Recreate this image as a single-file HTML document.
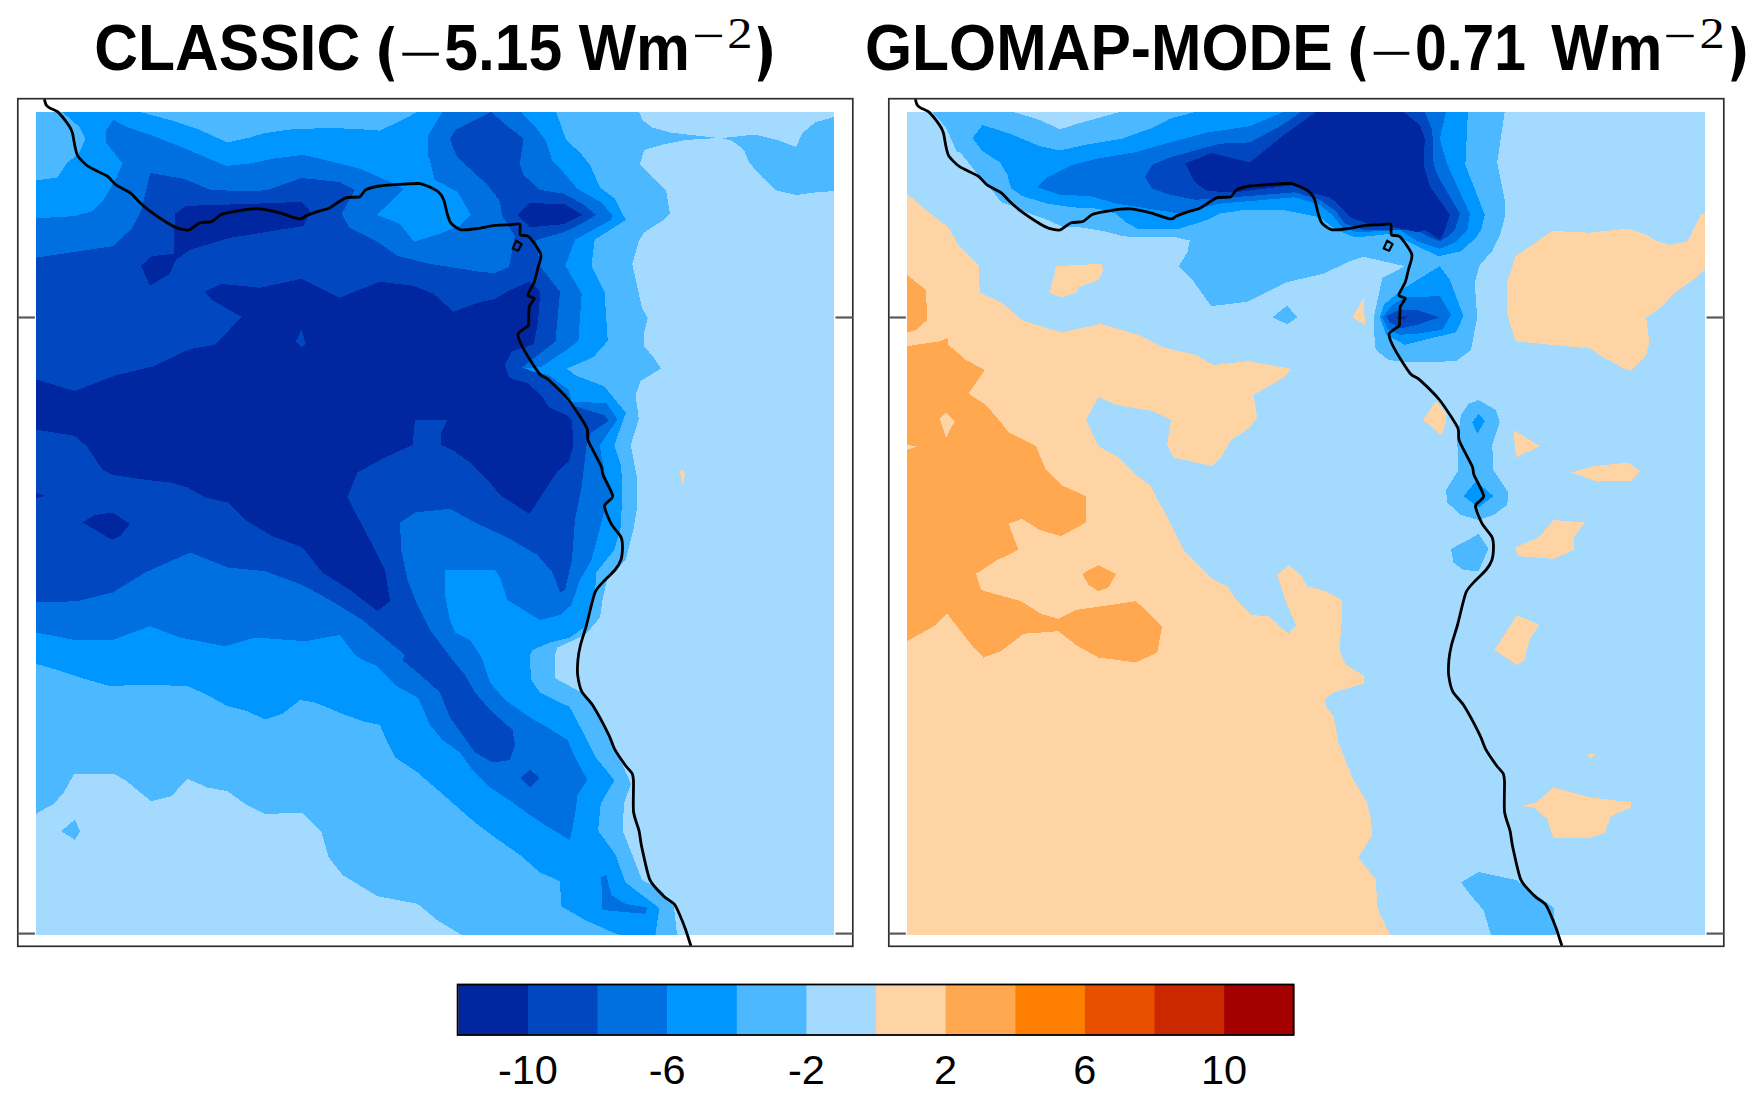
<!DOCTYPE html>
<html><head><meta charset="utf-8"><style>
html,body{margin:0;padding:0;background:#fff;width:1763px;height:1102px;overflow:hidden;position:relative}
</style></head><body>
<svg width="1763" height="1102" viewBox="0 0 1763 1102" style="position:absolute;left:0;top:0">
<g shape-rendering="crispEdges">
<rect x="36" y="112" width="798" height="823" fill="#4BB8FF"/>
<path d="M639,112 834,112 834,117 815,122.5 802.5,133 796,147 777.5,140 755,134.5 732.5,137 721,138 732.5,141 744,150 749,162.5 762.5,177.5 775,190 796,195 815,192.5 834,191 834,935 679,935 677,934 674,907 661,890 642,880 633.5,858 622.6,830.6 624,803 631,784 622.6,765 607.6,734 592.7,705 580.4,691.7 560,681 555,677.5 555,655 557.5,647.5 585,635 600,617.5 602.5,600 607.5,577.5 625.8,560 633.9,527 637.2,507.4 637.2,478 630.7,445.3 638.8,419.2 635.6,395 640.5,381 660.9,368.6 653.5,357.2 643.7,345.8 643.7,334.3 647.8,318 642.1,308.2 632.3,264.1 638.8,241.2 643.7,233 663.3,220 655,227.5 670,214 666,190 652.5,177.5 640,164 644,150 665,144 685,140 718,138 670,132.5 652.5,127.5 642.5,120Z" fill="#A5DAFF"/>
<path d="M36,813.8 53.8,803.8 63.8,792.5 73.8,774.5 92.5,773.8 113.8,773.8 125,780 151.2,801.2 171.2,796.2 187.5,778.8 207.5,787.5 227.5,791.2 245,803.8 265,813.8 302.5,813 321.2,831.2 328.8,857.5 342.5,875 377.5,896.2 417.5,903.8 437,920 462,935 36,935Z" fill="#A5DAFF"/>
<path d="M61.2,831.2 75,819.5 80,831.2 75,840Z" fill="#4BB8FF"/>
<path d="M680,471 684,470 685,476 683,486 681,478Z" fill="#FFD4A5"/>
<path d="M62.5,112 140,112 170,120 200,130 227.5,142.5 250,137.4 265,133 292.4,129.3 324.9,128.1 352.3,128.7 379.8,130.6 399.7,121.2 417.2,112 556.2,112 562.5,130 566.2,140 580,152.5 590,165 600,187.5 615,198.8 625.8,220 594.7,239.6 591.5,265.7 604.5,291.9 607.8,340.9 593.1,357.2 567,368.6 575.1,375.2 604.5,386.6 625.8,412.7 614.3,445.3 620.9,464.9 622.5,486.2 620.9,527 614.3,549.9 606.2,560 596.2,572.5 595,595 587.5,625 570,637.5 550,642.5 532.5,650 530,655 530,660 531.2,680 540,692.5 562.5,703.8 569.5,706.7 581.8,729.8 595.4,757 614.5,780.2 600.8,803.4 598.1,830.6 615.8,855 625.3,882.3 659.4,908.2 655.3,935 620,935 610,931.2 585,920 561.2,906.2 560,881.2 540,872.5 520,855 495,837.5 475,822.5 455,805 435,787.5 417.5,772.5 395,757.5 387.5,742.5 380,725 362.5,721.2 342.5,713.8 315,702.5 300,700 282.5,713.8 265,719.5 247.5,711.2 227.5,706.2 205,693.8 187.5,686.2 145,684.5 110,686.2 80,677.5 57.5,670 36,663.8 36,180.5 57.5,177.5 67.5,162.5 78.8,153.8 85.5,138.8 80,127.5Z" fill="#0096FF"/>
<path d="M36,218.4 74.7,216.1 91.7,211.4 104.1,199.1 116.4,177.5 122.6,163.6 105.6,142 105.6,131.2 113.3,119.7 125.7,126.6 153.4,135.9 184.3,148.2 225.9,165.9 250,163.6 272.5,158.7 302.4,154.9 324.9,159.9 359.8,168.6 390,182 403.9,188.9 376.9,214.9 399.9,223.9 413.9,241.8 439.8,233.8 459.8,225.8 470.8,214.9 457.8,191.9 434.8,179.9 429.8,160 427.5,154.9 427.5,136.2 442.5,112 521.1,112 536,127.5 546,141.2 552.3,161.2 563.5,172.4 577.2,188.6 600.9,202.3 612.2,214.8 611,220 575.1,239.6 565.3,265.7 581.7,293.5 578.4,340.9 565.3,350.7 540.8,367 521.2,368.6 549,375.2 568.6,389.9 571.9,402 606.2,402.9 617.6,419.2 599.6,445.3 604.5,471.5 611.1,494.3 604.5,510.7 598,535.2 591.5,560 580,580 571.2,605 560,615 540,620 507.5,600 500,577.5 495,570 445,570 445,595 450,620 455,632.5 470,640 480,655 482.5,660 490,682.5 505,700 530,717.5 547.5,727.5 567.5,740 575,757.5 587.5,780 577.5,795 575,815 570,840 545,825 530,815 512.5,802.5 490,787.5 472.5,770 460,752.5 442.5,740 430,725 422.5,707.5 417.5,697.5 395,685 375,665 362.5,660 355,655 340,635 305,641.2 255,637.5 225,646.2 180,637.5 150,626.2 112.5,640 75,640 36,632.5Z" fill="#0070E0"/>
<path d="M601.2,877.5 606.2,875 611.2,895 625,903.8 647.5,907.5 645,913.8 602.5,910Z" fill="#0070E0"/>
<path d="M36,257.7 76.3,251.6 113.3,246.2 131.8,228.4 141.1,211.4 150.3,172.9 184.3,179 210.5,189.9 250,191.4 267.8,190 301.7,178 339.6,182 354.6,189.9 341.6,213.9 349.6,227.9 377.6,241.9 397.5,255.8 429.5,263.8 480,271.8 494.5,273 509,267 514.8,236 507.3,223.5 502.4,216.1 499.9,201.1 487.4,184.9 472.4,171.1 457.4,157.4 452.4,146.2 450,138.7 456.2,129.3 491.1,112 507.3,126.2 523.6,138.7 519.8,163.6 523.6,174.9 539.8,189.9 563.5,193.6 582.2,203.6 595.9,214.8 579.7,224.8 563.5,232.3 536,240 540,266 560,292 555.5,341.4 522.1,367.5 542.5,374.8 555.5,387.9 570,405 604.5,415.1 608.6,420.8 591.5,432.3 586.6,445.3 581.7,486.2 575.1,518.8 571.9,560 565,590 560,592.5 552.5,572.5 537.5,555 507.5,537.5 475,522.5 450,508.8 415,512.5 400,522.5 401.2,550 407.5,580 417.5,605 430,630 445,650 452.5,660 465,675 475,692.5 490,710 512.5,730 515,745 510,760 492.5,762.5 475,752.5 462.5,735 450,717.5 440,692.5 417.5,672.5 402.5,660 405,655 362.5,620 330,600 302.5,585 265,571.2 227.5,567.5 190,552.5 145,572.5 112.5,592.5 77.5,601.2 36,602.5Z" fill="#0047C0"/>
<path d="M520,778 530,770 540,778 530,787Z" fill="#0047C0"/>
<path d="M174.9,213.9 185.9,205.9 249.8,203.9 301.7,201.9 310.7,211.9 303.7,225.9 229.8,237.9 189.9,249.8 175.9,259.8 169.9,273.8 149.9,285.8 141,265.8 151.9,256.2 173.9,253.8Z" fill="#0026A0"/>
<path d="M517.3,214.8 529.8,203 564.7,204.2 582.2,214.8 563.5,224.2 529.8,227.3Z" fill="#0026A0"/>
<path d="M36,379.4 74.7,391 114.9,375.6 153.4,366.3 188.9,349.4 215.1,344.7 241.4,317 212,300 203.9,291.8 221.8,283.8 259.8,287.8 301.7,278.8 339.6,297.8 379.6,281.8 413.5,285.8 433.5,293.8 453.4,311.7 480,302.1 494.5,299.2 509.1,290.5 529.4,281.8 540.3,291.2 538.1,321 533.8,344.3 512,351.5 504.7,364.6 509.1,377.7 527.9,383.5 542.5,396.6 548.3,406.7 567.2,415.5 571.9,420.8 573.5,445.3 568.6,461.7 557.2,471.5 529.4,514 500,495 490,482.5 470,462.5 452.5,450 441.2,445 441.2,432.5 447.5,420 415,420 412.5,445 385,457.5 357.5,472.5 347.5,497.5 375,550 385,570 390,601.2 377.5,611.2 350,590 322.5,572.5 302.5,547.5 272.5,536.2 245,520 227.5,502.5 205,497.5 187.5,487.5 170,482.5 147.5,480 112.5,475 102.5,470 87.1,446.6 74.7,435.8 36,429.6Z" fill="#0026A0"/>
<path d="M295.7,341.7 301.7,329.7 305.7,343.7 301.7,347.7Z" fill="#0047C0"/>
<path d="M82.5,522.5 95,515 112.5,512.5 130,523.8 120,536.2 112.5,540Z" fill="#0026A0"/>
<path d="M36,493 45,496 36,498Z" fill="#0026A0"/>
<rect x="907" y="112" width="798" height="823" fill="#A5DAFF"/>
<path d="M907.2,193.8 926,210 948.5,227.5 958.5,245 978.5,265 979.8,292.5 1001,302.5 1013.5,312.5 1021,320 1061,332.5 1101,323.8 1138.5,335 1163.5,347.5 1196,355 1213.5,365 1248.5,361.2 1291,368.8 1286,376.2 1253.5,395 1257.2,417.5 1248.5,428.8 1231,440 1221,457.5 1212.2,466.2 1173.5,457.5 1167.2,445 1171,420 1153.5,411.2 1116,405 1098.5,397 1086,420 1098.5,446.2 1118.5,457.5 1136,475 1149.8,485 1163.5,510 1183.5,550 1193.5,560 1213.5,580 1228.5,587.5 1236,600 1251,615 1268.5,616.2 1288.5,633.8 1296,625 1287.2,605 1277.2,575 1288.5,565 1301,575 1307.2,586.2 1326,591.2 1341.8,600 1342,615 1339.5,650 1343.5,660 1346,665 1364.8,676.2 1363.5,683.8 1333.5,692.5 1324.8,698.8 1326,706.2 1333.5,716.2 1338.5,742.5 1343.5,755 1353.5,780 1367.2,802.5 1371,820 1372.2,835 1358.5,857.5 1376,880 1377.2,907.5 1389.8,935 907,935Z" fill="#FFD4A5"/>
<path d="M907,275 926,290 927.2,320 916,330 907,332.5Z" fill="#FFA850"/>
<path d="M907,346.2 941,341.2 947.2,337.5 948.5,345 966,360 984.8,370 968.5,393.8 986,405 1001,422.5 1008.5,432.5 1036,446.2 1046,470 1061,485 1086,496.2 1086,522.5 1061,536.2 1039.8,530 1022.2,518.8 1008.5,523.8 1018.5,550 997.2,560 976,573.8 981,590 1021,601.2 1041,613.8 1058.5,618.8 1076,610 1118.5,603.8 1136,601.2 1162.2,626.2 1157.2,652.5 1136,662.5 1098.5,657.5 1076,645 1058.5,631.2 1023.5,633.8 1001,651.2 983.5,657.5 973.5,647.5 947.2,613.8 936,625 907,641.2Z" fill="#FFA850"/>
<path d="M939.8,418.8 946,412.5 954.8,421.2 946,437.5Z" fill="#FFD4A5"/>
<path d="M907,445 917.2,446.2 907,450Z" fill="#FFD4A5"/>
<path d="M1082.2,573.8 1098.5,565 1116,573.8 1108.5,587.5 1098.5,591.2 1088.5,585Z" fill="#FFA850"/>
<path d="M1056,266.2 1101,263.8 1103.5,270 1098.5,280 1078.5,287.5 1076,292.5 1061,297.5 1049.8,292.5Z" fill="#FFD4A5"/>
<path d="M1515.5,256.3 1549.8,232.7 1553.1,231 1589,232.7 1628.2,228.6 1647.8,235.1 1654.3,240 1669,244.9 1687,241.6 1700.9,213.9 1705,213.9 1705,269.4 1691.9,280.8 1673.9,293.1 1662.5,306.2 1646.2,317.6 1649.4,342.1 1646.2,355.2 1631.5,369.9 1626.6,369.9 1602.1,356.8 1590.6,348.6 1540,343.7 1515.5,341.3 1507.3,314.3 1507.3,281.7Z" fill="#FFD4A5"/>
<path d="M1423.5,420 1436,401.2 1446,412.5 1446,422.5 1441,435Z" fill="#FFD4A5"/>
<path d="M1513.5,430 1539.8,446.2 1516,457.5Z" fill="#FFD4A5"/>
<path d="M1571,472.5 1593.5,466.2 1628.5,462.5 1639.8,471.2 1631,481.2 1596,481.2Z" fill="#FFD4A5"/>
<path d="M1514.8,547.5 1538.5,537.5 1553.5,520 1584.8,522.5 1573.5,537.5 1573.5,550 1553.5,558.8 1518.5,556.2Z" fill="#FFD4A5"/>
<path d="M1494.5,650 1517,615 1539.5,625 1529.5,640 1524.5,660 1517,665Z" fill="#FFD4A5"/>
<path d="M1521,806.2 1536,802.5 1553.5,787.5 1591,797.5 1631,802.5 1631,807.5 1611,816.2 1604.8,832.5 1591,837.5 1553.5,837.5 1547.2,818.8 1533.5,807.5Z" fill="#FFD4A5"/>
<path d="M1587.2,753.8 1596,753.8 1591,758.8Z" fill="#FFD4A5"/>
<path d="M1352.5,317.3 1363.7,297.4 1364.9,324.8Z" fill="#FFD4A5"/>
<path d="M932.2,112 1013.7,112 1040,120 1059.8,129.3 1080,123 1119.7,112 1504.7,112 1497.2,162.4 1504.7,199.8 1504.7,217.3 1500,235 1492.2,251.2 1479.7,264.9 1474.7,282.4 1477.2,317.3 1471,350 1456,361.2 1411,362.5 1388.5,360 1376,350 1374.9,346 1373.7,317.3 1382.4,278 1404.9,266.2 1363.7,256.8 1350,261.2 1323.4,273.7 1286,282.4 1247.3,301.8 1211.1,306.1 1192.4,279.9 1178.7,266.2 1187.4,252.5 1189.9,240.6 1177.4,237.5 1130,236.9 1122.2,236 1103.5,231 1084.8,227.9 1072.3,226.7 1062.3,226.7 1047.3,219.8 1029.9,213.6 1012.4,206.1 1001.2,202.3 993.7,192.3 975,171.1 967.5,161.2 960,152.4 957.2,152.5 946,127.5Z" fill="#4BB8FF"/>
<path d="M1272.3,317.3 1287.2,305.5 1297.2,317.3 1287.2,324.2Z" fill="#4BB8FF"/>
<path d="M982.5,125 1009.9,133.7 1039.9,146.2 1059.8,150.5 1084.8,144.9 1122.2,138.7 1153.4,127.5 1170,118.7 1195,112 1467.9,112 1465.4,164.9 1484.7,214.8 1481,230 1476,237.5 1461,251.2 1438.6,256.2 1417.3,246.2 1392.4,233.7 1355,237.5 1336,229.8 1319.7,217.3 1307.3,214.8 1282.3,209.8 1244.9,209.8 1219.9,213.6 1207.4,219.8 1180,228.5 1137.2,228.5 1126,222.3 1116,213.6 1097.3,208.6 1072.3,207.3 1047.3,203.6 1022.4,196.1 1011.2,188.6 1007.4,174.9 999.9,162.4 982.5,151.2 972.5,138.1Z" fill="#0096FF"/>
<path d="M1439.8,266.2 1449.8,279.9 1463.5,316.1 1456,332.3 1429.8,338.6 1404.9,344.8 1386.2,334.8 1379.9,317.3 1383.7,304.9 1399.9,291.1 1417.3,279.9Z" fill="#0096FF"/>
<path d="M1037.4,187.4 1047.3,177.4 1072.3,164.9 1097.3,158.7 1134.7,152.4 1170,142.4 1207.4,132.5 1249.9,126.2 1283.6,112 1446,112 1439.8,138.7 1447.3,164.9 1469.8,213.6 1467.3,230 1454.8,242.5 1439.8,248.7 1417.3,241.2 1399.9,230 1357.2,232.3 1342.2,227.3 1332.2,214.8 1319.7,204.8 1294.8,197.3 1219.9,203.6 1180,213.6 1116,203.6 1091,196.1 1059.8,194.8Z" fill="#0070E0"/>
<path d="M1382.4,317.3 1392.4,304.9 1404.9,297.4 1439.8,296.1 1451,314.9 1442.3,329.8 1417.3,333.6 1399.9,334.8 1387.4,328.6Z" fill="#0070E0"/>
<path d="M1152.2,164.9 1170,157.4 1219.9,143.7 1249.9,142.4 1282.3,125 1301,112 1424.8,112 1432.3,130 1433.6,164.9 1438.6,177.4 1459.8,213.6 1454.8,230 1448.5,236.2 1439.8,241.2 1429.8,237.5 1417.3,230 1390,229.8 1363.4,229.8 1344.7,223.5 1336,211.1 1319.7,199.8 1294.8,192.3 1232.4,197.3 1195,199.8 1170,194.8 1152.2,188.6 1145,177Z" fill="#0047C0"/>
<path d="M1386.2,316.1 1399.9,309.9 1417.3,309.9 1439.8,317.3 1417.3,324.8 1399.9,328.6 1389.9,322.3Z" fill="#0047C0"/>
<path d="M1185,163.6 1211.2,153 1249.9,162.4 1282.3,136.2 1316,112 1403.6,112 1419.8,125 1424.8,138.7 1423.6,164.9 1429.8,186.1 1449.8,214.8 1444.8,230 1439.8,240 1424.8,230 1417.3,232.3 1392.4,226.7 1367.4,223.5 1350,217.3 1342.5,208.6 1330,197.3 1313.5,193.6 1294.8,184.9 1234.9,192.3 1207.4,191.1 1195,182.4Z" fill="#0026A0"/>
<path d="M1394.9,317.3 1407.4,316.1 1404.9,319.8Z" fill="#0026A0"/>
<path d="M1478.5,400 1496,410 1499.8,422.5 1492.2,445 1493.5,470 1508.5,492.5 1507.2,505 1493.5,515 1478.5,520 1461,515 1447.2,502.5 1446,490 1458.5,470 1457.2,440 1461,415 1468.5,403.8Z" fill="#4BB8FF"/>
<path d="M1472.2,422.5 1478.5,413.8 1484.8,421.2 1477.2,433.8Z" fill="#0096FF"/>
<path d="M1463.5,496.2 1476,481.2 1493.5,496.2 1478.5,507.5Z" fill="#0096FF"/>
<path d="M1451,548.8 1466,541.2 1478.5,533.8 1488.5,548.8 1478.5,571.2 1463.5,570 1453.5,562.5Z" fill="#4BB8FF"/>
<path d="M1461,882.5 1478.5,872 1516,880 1553.5,907.5 1556,935 1491,935 1483.5,910 1468.5,892.5Z" fill="#4BB8FF"/>
</g>
<path d="M44.3,99 C44.5,99.7 45.5,103.9 46.2,105 C46.9,106.1 48.6,107.3 50,108.1 C51.4,108.9 55.6,109.9 57.8,111.9 C60,113.9 66.9,122.7 68.6,125.1 C70.3,127.5 71.7,130.5 72.4,132.8 C73.1,135.1 74.1,142.4 74.7,145.1 C75.3,147.8 76.2,153.4 77.8,155.9 C79.4,158.4 85.2,164.4 88.6,166.7 C92,169 103.9,173.8 107.1,176 C110.3,178.2 113.7,183.2 116.4,185.2 C119.1,187.2 127.8,191.1 130.3,192.9 C132.8,194.7 135.7,198.5 138,200.7 C140.3,202.9 146.7,208.7 150.3,211.4 C153.9,214.1 165.6,221.8 168.8,223.8 C172,225.8 175.8,227.7 178.1,228.4 C180.4,229.1 186.4,230.6 188.9,230 C191.4,229.4 197,224 199.7,223 C202.4,222 209.5,222.5 212,221.5 C214.5,220.5 218.6,215.7 221.3,214.5 C224,213.3 231.9,212 235.2,211.4 C238.5,210.8 247.1,209.4 250,209.1 C252.9,208.8 256.3,208.5 259.8,208.9 C263.3,209.3 275,211.7 279.7,212.9 C284.4,214.1 296.7,218.6 299.7,218.9 C302.7,219.2 303.4,216.8 305.7,215.9 C308,215 316.9,211.8 319.7,210.9 C322.5,210 326.6,209.4 329.6,207.9 C332.6,206.4 342.1,199.2 345.6,197.9 C349.1,196.6 357.3,197.8 359.6,196.9 C361.9,196 363.3,191.2 365.6,189.9 C367.9,188.6 374.9,186.7 379.6,186 C384.3,185.3 400.8,184.3 405.5,184 C410.2,183.7 417.4,183.4 420,183.6 C422.6,183.8 425.3,185.1 427.5,186.1 C429.7,187.1 436.8,190.7 438.7,192.3 C440.6,193.9 442.7,197.2 443.7,199.8 C444.7,202.4 446.6,212 447.5,214.8 C448.4,217.6 449.6,221.8 451.2,223.5 C452.8,225.2 458.1,229.2 461.2,229.8 C464.3,230.4 473.5,229 477.4,228.5 C481.3,228 491.1,225.8 494.9,225.4 C498.7,225 506.9,224.9 509.8,224.8 C512.7,224.7 518.6,223 519.8,224.2 C521,225.4 519.3,233.3 520.4,234.8 C521.5,236.3 526.6,234.5 529,236.8 C531.4,239.1 539.8,250.5 540.8,254.3 C541.8,258.1 538.4,265.8 537.6,269 C536.8,272.2 535.4,279.1 534.3,282.1 C533.2,285.1 527.8,293.2 527.8,295.1 C527.8,297 534.1,297.1 534.3,298.4 C534.5,299.7 530.1,303.9 529.4,306.6 C528.7,309.3 528.8,319 528.6,321.3 C528.4,323.6 529,324.7 527.8,326.2 C526.6,327.7 518.4,331.4 518,334.3 C517.6,337.2 522,346.1 524.5,350.7 C527,355.3 536.3,370.1 539.2,373.5 C542.1,376.9 545.6,377 549,380.1 C552.4,383.2 564.2,394.5 568.6,400 C573,405.5 584.3,422.7 586.6,427.4 C588.9,432.1 586.5,435.8 588.2,440.4 C589.9,445 599.6,462.6 601.3,466.6 C603,470.6 601.6,471.3 602.9,474.7 C604.2,478.1 612.5,492.4 612.7,496 C612.9,499.6 604.7,502.6 604.5,505.8 C604.3,509 609.2,520.1 611.1,523.7 C613,527.3 619.6,534.1 620.9,536.8 C622.2,539.5 622.5,543.9 622.5,546.6 C622.5,549.3 621.8,557.3 620.9,560 C620,562.7 616.9,567.7 615,570 C613.1,572.3 607.3,577.4 605,580 C602.7,582.6 597.2,587.2 595,592.5 C592.8,597.8 588.2,618.9 586.5,625 C584.8,631.1 581.5,640.9 580.5,645 C579.5,649.1 578.2,656.5 577.9,660 C577.6,663.5 577.2,671.7 577.7,675.4 C578.2,679.1 580,688.2 581.8,691.7 C583.5,695.2 589.5,700.2 592.7,705.3 C595.9,710.4 606.5,730.2 609,735.3 C611.5,740.4 612.6,745.4 614.5,748.9 C616.4,752.4 623.2,762.3 625.3,765.2 C627.4,768.1 631.1,771.5 632.1,773.4 C633.1,775.3 633.3,777.2 633.5,781.6 C633.7,786 632.9,805.8 633.5,811.5 C634.1,817.2 638,826.5 639,830.6 C640,834.7 640.4,841.2 641.7,846.9 C643,852.6 647.3,873.9 649.8,879.6 C652.3,885.3 660.6,893 663.5,895.9 C666.4,898.8 672.4,901.9 674.3,904.1 C676.2,906.3 678.5,912.1 679.8,915 C681.1,917.9 683.9,925 685.2,928.6 C686.5,932.2 690.3,944 691,946" fill="none" stroke="#000" stroke-width="2.8" stroke-linejoin="round"/><polygon points="516.2,240.6 521.6,244.1 518.1,250.7 512.7,248.5" fill="none" stroke="#000" stroke-width="2.2" stroke-linejoin="round"/>
<path d="M915.3,99 C915.5,99.7 916.5,103.9 917.2,105 C917.9,106.1 919.6,107.3 921,108.1 C922.4,108.9 926.6,109.9 928.8,111.9 C931,113.9 937.9,122.7 939.6,125.1 C941.3,127.5 942.7,130.5 943.4,132.8 C944.1,135.1 945.1,142.4 945.7,145.1 C946.3,147.8 947.2,153.4 948.8,155.9 C950.4,158.4 956.2,164.4 959.6,166.7 C963,169 974.9,173.8 978.1,176 C981.3,178.2 984.7,183.2 987.4,185.2 C990.1,187.2 998.8,191.1 1001.3,192.9 C1003.8,194.7 1006.7,198.5 1009,200.7 C1011.3,202.9 1017.7,208.7 1021.3,211.4 C1024.9,214.1 1036.6,221.8 1039.8,223.8 C1043,225.8 1046.8,227.7 1049.1,228.4 C1051.4,229.1 1057.4,230.6 1059.9,230 C1062.4,229.4 1068,224 1070.7,223 C1073.4,222 1080.5,222.5 1083,221.5 C1085.5,220.5 1089.6,215.7 1092.3,214.5 C1095,213.3 1102.9,212 1106.2,211.4 C1109.5,210.8 1118.1,209.4 1121,209.1 C1123.9,208.8 1127.3,208.5 1130.8,208.9 C1134.3,209.3 1146,211.7 1150.7,212.9 C1155.4,214.1 1167.7,218.6 1170.7,218.9 C1173.7,219.2 1174.4,216.8 1176.7,215.9 C1179,215 1187.9,211.8 1190.7,210.9 C1193.5,210 1197.6,209.4 1200.6,207.9 C1203.6,206.4 1213.1,199.2 1216.6,197.9 C1220.1,196.6 1228.3,197.8 1230.6,196.9 C1232.9,196 1234.3,191.2 1236.6,189.9 C1238.9,188.6 1245.9,186.7 1250.6,186 C1255.3,185.3 1271.8,184.3 1276.5,184 C1281.2,183.7 1288.4,183.4 1291,183.6 C1293.6,183.8 1296.3,185.1 1298.5,186.1 C1300.7,187.1 1307.8,190.7 1309.7,192.3 C1311.6,193.9 1313.7,197.2 1314.7,199.8 C1315.7,202.4 1317.6,212 1318.5,214.8 C1319.4,217.6 1320.6,221.8 1322.2,223.5 C1323.8,225.2 1329.1,229.2 1332.2,229.8 C1335.3,230.4 1344.5,229 1348.4,228.5 C1352.3,228 1362.1,225.8 1365.9,225.4 C1369.7,225 1377.9,224.9 1380.8,224.8 C1383.7,224.7 1389.6,223 1390.8,224.2 C1392,225.4 1390.3,233.3 1391.4,234.8 C1392.5,236.3 1397.6,234.5 1400,236.8 C1402.4,239.1 1410.8,250.5 1411.8,254.3 C1412.8,258.1 1409.4,265.8 1408.6,269 C1407.8,272.2 1406.4,279.1 1405.3,282.1 C1404.2,285.1 1398.8,293.2 1398.8,295.1 C1398.8,297 1405.1,297.1 1405.3,298.4 C1405.5,299.7 1401.1,303.9 1400.4,306.6 C1399.7,309.3 1399.8,319 1399.6,321.3 C1399.4,323.6 1400,324.7 1398.8,326.2 C1397.6,327.7 1389.4,331.4 1389,334.3 C1388.6,337.2 1393,346.1 1395.5,350.7 C1398,355.3 1407.3,370.1 1410.2,373.5 C1413.1,376.9 1416.6,377 1420,380.1 C1423.4,383.2 1435.2,394.5 1439.6,400 C1444,405.5 1455.3,422.7 1457.6,427.4 C1459.9,432.1 1457.5,435.8 1459.2,440.4 C1460.9,445 1470.6,462.6 1472.3,466.6 C1474,470.6 1472.6,471.3 1473.9,474.7 C1475.2,478.1 1483.5,492.4 1483.7,496 C1483.9,499.6 1475.7,502.6 1475.5,505.8 C1475.3,509 1480.2,520.1 1482.1,523.7 C1484,527.3 1490.6,534.1 1491.9,536.8 C1493.2,539.5 1493.5,543.9 1493.5,546.6 C1493.5,549.3 1492.8,557.3 1491.9,560 C1491,562.7 1487.9,567.7 1486,570 C1484.1,572.3 1478.3,577.4 1476,580 C1473.7,582.6 1468.2,587.2 1466,592.5 C1463.8,597.8 1459.2,618.9 1457.5,625 C1455.8,631.1 1452.5,640.9 1451.5,645 C1450.5,649.1 1449.2,656.5 1448.9,660 C1448.6,663.5 1448.2,671.7 1448.7,675.4 C1449.2,679.1 1451,688.2 1452.8,691.7 C1454.5,695.2 1460.5,700.2 1463.7,705.3 C1466.9,710.4 1477.5,730.2 1480,735.3 C1482.5,740.4 1483.6,745.4 1485.5,748.9 C1487.4,752.4 1494.2,762.3 1496.3,765.2 C1498.4,768.1 1502.1,771.5 1503.1,773.4 C1504.1,775.3 1504.3,777.2 1504.5,781.6 C1504.7,786 1503.9,805.8 1504.5,811.5 C1505.1,817.2 1509,826.5 1510,830.6 C1511,834.7 1511.4,841.2 1512.7,846.9 C1514,852.6 1518.3,873.9 1520.8,879.6 C1523.3,885.3 1531.6,893 1534.5,895.9 C1537.4,898.8 1543.4,901.9 1545.3,904.1 C1547.2,906.3 1549.5,912.1 1550.8,915 C1552.1,917.9 1554.9,925 1556.2,928.6 C1557.5,932.2 1561.3,944 1562,946" fill="none" stroke="#000" stroke-width="2.8" stroke-linejoin="round"/><polygon points="1387.2,240.6 1392.6,244.1 1389.1,250.7 1383.7,248.5" fill="none" stroke="#000" stroke-width="2.2" stroke-linejoin="round"/>
<rect x="17.8" y="98.7" width="835" height="847.6" fill="none" stroke="#2e2e2e" stroke-width="1.7"/><line x1="17.8" y1="317.5" x2="34.9" y2="317.5" stroke="#5a5a5a" stroke-width="2.2"/><line x1="835.5" y1="317.5" x2="852.8" y2="317.5" stroke="#5a5a5a" stroke-width="2.2"/><line x1="17.8" y1="933.6" x2="34.9" y2="933.6" stroke="#5a5a5a" stroke-width="2.2"/><line x1="835.5" y1="933.6" x2="852.8" y2="933.6" stroke="#5a5a5a" stroke-width="2.2"/>
<rect x="888.8" y="98.7" width="835" height="847.6" fill="none" stroke="#2e2e2e" stroke-width="1.7"/><line x1="888.8" y1="317.5" x2="905.9" y2="317.5" stroke="#5a5a5a" stroke-width="2.2"/><line x1="1706.5" y1="317.5" x2="1723.8" y2="317.5" stroke="#5a5a5a" stroke-width="2.2"/><line x1="888.8" y1="933.6" x2="905.9" y2="933.6" stroke="#5a5a5a" stroke-width="2.2"/><line x1="1706.5" y1="933.6" x2="1723.8" y2="933.6" stroke="#5a5a5a" stroke-width="2.2"/>
<rect x="458.3" y="984.5" width="70.2" height="50.5" fill="#0026A0"/><rect x="527.9" y="984.5" width="70.2" height="50.5" fill="#0047C0"/><rect x="597.5" y="984.5" width="70.2" height="50.5" fill="#0070E0"/><rect x="667.2" y="984.5" width="70.2" height="50.5" fill="#0096FF"/><rect x="736.8" y="984.5" width="70.2" height="50.5" fill="#4BB8FF"/><rect x="806.4" y="984.5" width="70.2" height="50.5" fill="#A5DAFF"/><rect x="876" y="984.5" width="70.2" height="50.5" fill="#FFD4A5"/><rect x="945.6" y="984.5" width="70.2" height="50.5" fill="#FFA850"/><rect x="1015.3" y="984.5" width="70.2" height="50.5" fill="#FF8000"/><rect x="1084.9" y="984.5" width="70.2" height="50.5" fill="#E85000"/><rect x="1154.5" y="984.5" width="70.2" height="50.5" fill="#CC2800"/><rect x="1224.1" y="984.5" width="70.2" height="50.5" fill="#A50000"/><rect x="457.6" y="984.5" width="836" height="50.5" fill="none" stroke="#000" stroke-width="1.8"/>
<text transform="translate(94.2,70.3) scale(1.0,1.075)" font-family="Liberation Sans" font-weight="bold" font-size="60.6">CLASSIC</text><path d="M389.1,26.1 Q369.3,53.8 389.1,81.5 L394.2,81.5 Q382.6,53.8 394.2,26.1 Z" fill="#000"/><rect x="402.3" y="52.7" width="36.6" height="3" fill="#000"/><text transform="translate(444.2,70.3) scale(1.0,1.075)" font-family="Liberation Sans" font-weight="bold" font-size="60.6">5.15</text><text transform="translate(578.7,70.3) scale(1.0,1.075)" font-family="Liberation Sans" font-weight="bold" font-size="60.6">Wm</text><rect x="695.1" y="34.7" width="27" height="2.4" fill="#000"/><text transform="translate(727.2,47.7) scale(1.2,1.05)" font-family="Liberation Serif" font-size="42">2</text><path d="M762.8,26.1 Q781,53.8 762.8,81.5 L757.8,81.5 Q767.2,53.8 757.8,26.1 Z" fill="#000"/><text transform="translate(864.9,70.3) scale(1.0,1.075)" font-family="Liberation Sans" font-weight="bold" font-size="60.6">GLOMAP-MODE</text><path d="M1360.6,26.1 Q1340.8,53.8 1360.6,81.5 L1365.7,81.5 Q1354.1,53.8 1365.7,26.1 Z" fill="#000"/><rect x="1373.7" y="51.8" width="35.6" height="3" fill="#000"/><text transform="translate(1415,70.3) scale(0.94,1.075)" font-family="Liberation Sans" font-weight="bold" font-size="60.6">0.71</text><text transform="translate(1551.2,70.3) scale(1.0,1.075)" font-family="Liberation Sans" font-weight="bold" font-size="60.6">Wm</text><rect x="1666.3" y="34.8" width="27.4" height="2.4" fill="#000"/><text transform="translate(1699.5,47.7) scale(1.2,1.05)" font-family="Liberation Serif" font-size="42">2</text><path d="M1736.2,26.1 Q1754.4,53.8 1736.2,81.5 L1731.2,81.5 Q1740.6,53.8 1731.2,26.1 Z" fill="#000"/><text x="527.9" y="1084.3" text-anchor="middle" font-family="Liberation Sans" font-size="41.5">-10</text><text x="667.2" y="1084.3" text-anchor="middle" font-family="Liberation Sans" font-size="41.5">-6</text><text x="806.4" y="1084.3" text-anchor="middle" font-family="Liberation Sans" font-size="41.5">-2</text><text x="945.6" y="1084.3" text-anchor="middle" font-family="Liberation Sans" font-size="41.5">2</text><text x="1084.9" y="1084.3" text-anchor="middle" font-family="Liberation Sans" font-size="41.5">6</text><text x="1224.1" y="1084.3" text-anchor="middle" font-family="Liberation Sans" font-size="41.5">10</text></svg>
</body></html>
